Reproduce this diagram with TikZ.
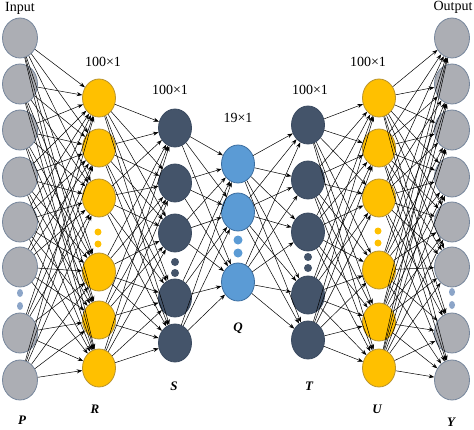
\documentclass[tikz,border=0pt]{standalone}
\usepackage{fontspec}
\setmainfont{Liberation Serif}
\usetikzlibrary{shapes.geometric}
\usetikzlibrary{arrows.meta}
\usepackage{xcolor}

\definecolor{greyfill}{RGB}{172,174,180}
\definecolor{greyline}{RGB}{118,134,156}
\definecolor{greydot}{RGB}{140,165,200}
\definecolor{goldfill}{RGB}{255,192,0}
\definecolor{goldline}{RGB}{185,148,45}
\definecolor{navyfill}{RGB}{68,84,106}
\definecolor{navyline}{RGB}{58,74,96}
\definecolor{skyfill}{RGB}{91,155,213}
\definecolor{skyline}{RGB}{60,110,160}

\tikzset{
  unit/.style={ellipse, minimum width=33pt, minimum height=38pt, inner sep=0pt, line width=0.8pt},
  inout/.style={unit, minimum width=35pt, minimum height=40pt, fill=greyfill, draw=greyline},
  wide/.style={unit, fill=goldfill, draw=goldline},
  narrow/.style={unit, fill=navyfill, draw=navyline},
  code/.style={unit, fill=skyfill, draw=skyline},
  link/.style={-{Stealth[length=5.5pt,width=4pt]}, line width=0.5pt},
  sizetext/.style={font=\fontsize{14}{16}\selectfont},
  layername/.style={font=\fontsize{13}{15}\selectfont\bfseries\itshape}
}

\begin{document}
\begin{tikzpicture}[x=1pt,y=-1pt]
\useasboundingbox (0,0) rectangle (474,429);

% layers
\foreach \y [count=\i] in {38,84,130,177,222,267,333,380}
  \node[inout] (p\i) at (20,\y) {};
\foreach \y [count=\i] in {98,148,198,272,320,368}
  \node[wide] (r\i) at (99,\y) {};
\foreach \y [count=\i] in {128,183,233,298,343}
  \node[narrow] (s\i) at (175,\y) {};
\foreach \y [count=\i] in {164,212,282}
  \node[code] (q\i) at (238,\y) {};
\foreach \y [count=\i] in {125,180,232,295,340}
  \node[narrow] (t\i) at (308,\y) {};
\foreach \y [count=\i] in {98,148,198,270,322,368}
  \node[wide] (u\i) at (379,\y) {};
\foreach \y [count=\i] in {38,84,130,177,222,267,333,380}
  \node[inout] (y\i) at (452,\y) {};

% dots
\fill[greydot] (20,293) ellipse (3 and 4) (20,306) ellipse (3 and 4);
\fill[goldfill] (98,232) circle (3.5) (98,244) circle (3.5);
\fill[navyfill] (175,262) circle (4) (175,273) circle (4);
\fill[skyfill] (238,240) circle (4.5) (238,253) circle (4.5);
\fill[navyfill] (308,257) circle (4) (308,268) circle (4);
\fill[goldfill] (378,231) circle (3.5) (378,243) circle (3.5);
\fill[greydot] (452,292) ellipse (3 and 4) (452,305) ellipse (3 and 4);

% connections
\foreach \i in {1,...,8} \foreach \j in {1,...,6} \draw[link] (p\i) -- (r\j);
\foreach \i in {1,...,6} \foreach \j in {1,...,5} \draw[link] (r\i) -- (s\j);
\foreach \i in {1,...,5} \foreach \j in {1,...,3} \draw[link] (s\i) -- (q\j);
\foreach \i in {1,...,3} \foreach \j in {1,...,5} \draw[link] (q\i) -- (t\j);
\foreach \i in {1,...,5} \foreach \j in {1,...,6} \draw[link] (t\i) -- (u\j);
\foreach \i in {1,...,6} \foreach \j in {1,...,8} \draw[link] (u\i) -- (y\j);

% labels
\node[sizetext] (intext) at (20,8) {Input};
\node[sizetext] (outtext) at (453,7) {Output};
\node[sizetext] (rsize) at (103,62) {100×1};
\node[sizetext] (ssize) at (170,90) {100×1};
\node[sizetext] (qsize) at (238,118) {19×1};
\node[sizetext] (tsize) at (310,90) {100×1};
\node[sizetext] (usize) at (368,62) {100×1};
\node[layername] (pname) at (22,420) {P};
\node[layername] (rname) at (95,409) {R};
\node[layername] (sname) at (174,386) {S};
\node[layername] (qname) at (238,328) {Q};
\node[layername] (tname) at (309,386) {T};
\node[layername] (uname) at (377,409) {U};
\node[layername] (yname) at (451,422) {Y};
\end{tikzpicture}
\end{document}
